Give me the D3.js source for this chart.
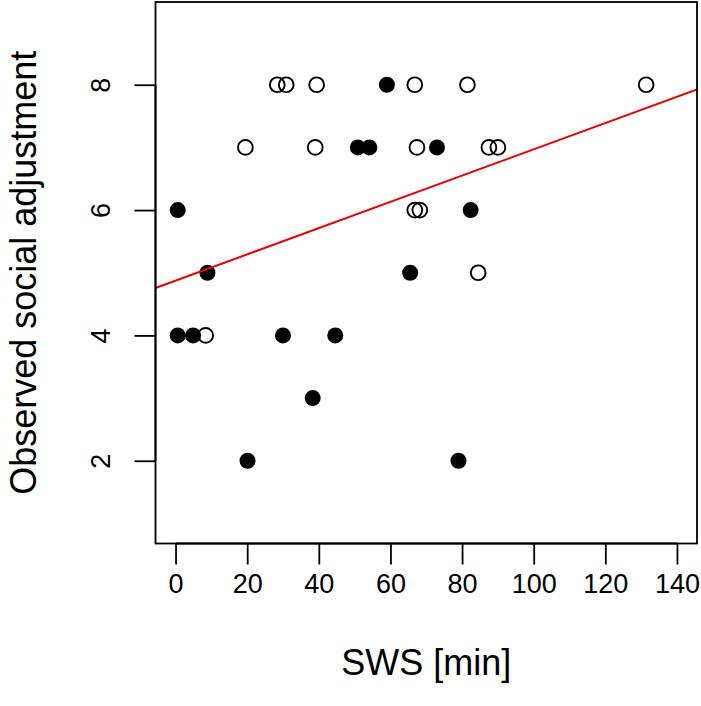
<!DOCTYPE html>
<html><head><meta charset="utf-8">
<script src="https://cdn.jsdelivr.net/npm/d3@7"></script>
<style>body{margin:0;background:#fff}svg{display:block}text{font-family:"Liberation Sans",Arial,sans-serif;fill:#000}</style>
</head><body><div id="c"></div>
<script>
// Data
const filledX = [59.0, 50.9, 54.1, 73.0, 0.6, 82.4, 8.9, 65.5, 0.6, 4.9, 30.0, 44.6, 38.3, 20.1, 79.0];
const filledY = [8, 7, 7, 7, 6, 6, 5, 5, 4, 4, 4, 4, 3, 2, 2];
const openX = [28.4, 30.9, 39.4, 66.8, 81.5, 131.4, 19.5, 39.0, 67.4, 87.5, 90.0, 66.8, 68.2, 84.5, 8.4];
const openY = [8, 8, 8, 8, 8, 8, 7, 7, 7, 7, 7, 6, 6, 5, 4];
const fitLine = [4.874, 0.02095]; // intercept, slope
const xTicks = [0, 20, 40, 60, 80, 100, 120, 140];
const yTicks = [2, 4, 6, 8];
const xLabel = "SWS [min]";
const yLabel = "Observed social adjustment";

const W = 701, H = 706;
const box = {l: 155.5, r: 697, t: 2, b: 543.5};
const svg = d3.select("#c").append("svg").attr("width", W).attr("height", H);
const x = d3.scaleLinear().domain([-5.6, 145.6]).range([box.l, box.r]);
const y = d3.scaleLinear().domain([0.68, 9.32]).range([box.b, box.t]);

svg.append("defs").append("clipPath").attr("id", "cp")
  .append("rect").attr("x", box.l).attr("y", box.t).attr("width", box.r - box.l).attr("height", box.b - box.t);

// points
svg.append("g").selectAll("circle").data(openX.map((v, i) => [v, openY[i]])).join("circle")
  .attr("cx", d => x(d[0])).attr("cy", d => y(d[1])).attr("r", 7.4)
  .attr("fill", "none").attr("stroke", "#000").attr("stroke-width", 1.9);
svg.append("g").selectAll("circle").data(filledX.map((v, i) => [v, filledY[i]])).join("circle")
  .attr("cx", d => x(d[0])).attr("cy", d => y(d[1])).attr("r", 8)
  .attr("fill", "#000");

// regression line
const xd = x.domain();
svg.append("line").attr("clip-path", "url(#cp)")
  .attr("x1", x(xd[0])).attr("y1", y(fitLine[0] + fitLine[1] * xd[0]))
  .attr("x2", x(xd[1])).attr("y2", y(fitLine[0] + fitLine[1] * xd[1]))
  .attr("stroke", "#ee0000").attr("stroke-width", 2);

// box
svg.append("rect").attr("x", box.l).attr("y", box.t).attr("width", box.r - box.l).attr("height", box.b - box.t)
  .attr("fill", "none").attr("stroke", "#000").attr("stroke-width", 1.8);

const tickFont = "27px", titleFont = "36px";

// x axis
const xa = svg.append("g").attr("transform", `translate(0,${box.b})`)
  .call(d3.axisBottom(x).tickValues(xTicks).tickSize(21).tickPadding(9).tickSizeOuter(0));
xa.select(".domain").attr("d", `M${x(xTicks[0])},0H${x(xTicks[xTicks.length-1])}`).attr("stroke-width", 1.8);
xa.selectAll(".tick line").attr("stroke-width", 1.8);
xa.selectAll("text").style("font-size", tickFont).style("font-family", "Liberation Sans, Arial, sans-serif");

// y axis
const ya = svg.append("g").attr("transform", `translate(${box.l},0)`)
  .call(d3.axisLeft(y).tickValues(yTicks).tickSize(21).tickSizeOuter(0));
ya.select(".domain").attr("d", `M0,${y(yTicks[0])}V${y(yTicks[yTicks.length-1])}`).attr("stroke-width", 1.8);
ya.selectAll(".tick line").attr("stroke-width", 1.8);
ya.selectAll("text").attr("x", null).attr("dy", null)
  .attr("text-anchor", "middle").attr("transform", "translate(-55,0) rotate(-90)")
  .attr("dy", "0.35em")
  .style("font-size", tickFont).style("font-family", "Liberation Sans, Arial, sans-serif");

// titles
svg.append("text").attr("x", (box.l + box.r) / 2).attr("y", 675).attr("text-anchor", "middle")
  .style("font-size", titleFont).text(xLabel);
svg.append("text").attr("transform", `translate(23,${(box.t + box.b) / 2}) rotate(-90)`).attr("text-anchor", "middle")
  .attr("dy", "0.35em")
  .style("font-size", titleFont).text(yLabel);
</script></body></html>
